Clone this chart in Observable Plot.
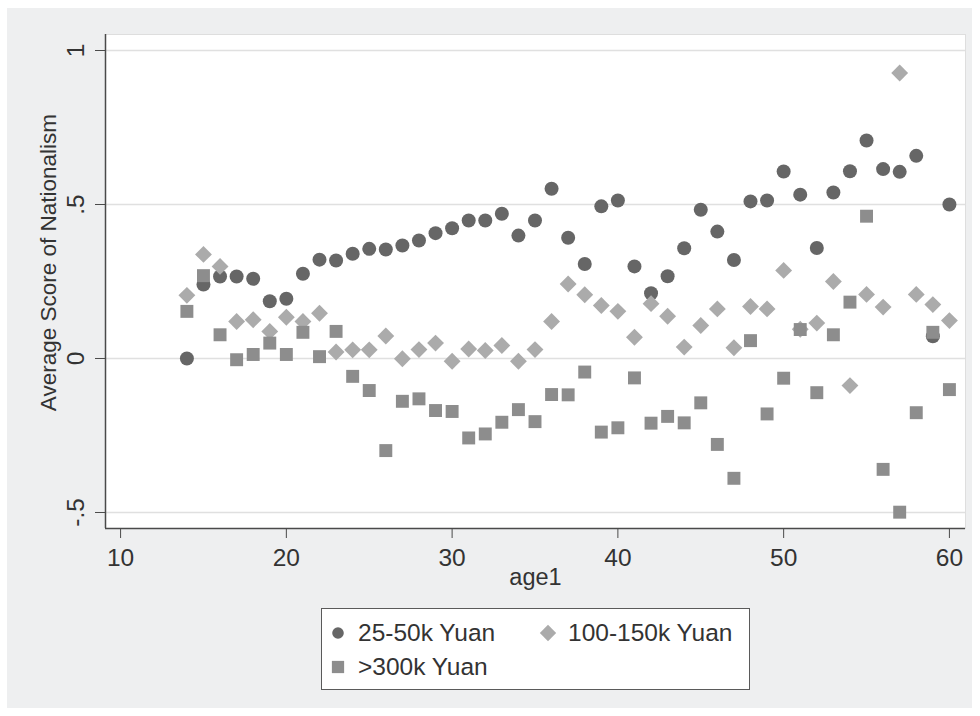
<!DOCTYPE html>
<html>
<head>
<meta charset="utf-8">
<script src="https://cdn.jsdelivr.net/npm/d3@7"></script>
<script src="https://cdn.jsdelivr.net/npm/@observablehq/plot@0.6"></script>
<style>
  body { margin: 0; background: #ffffff; font-family: "Liberation Sans", Arial, sans-serif; }
  #graph { position: absolute; left: 7px; top: 8px; width: 965px; height: 700px; background: #eeeff0; }
  #chart svg { display: block; }
  #legend {
    position: absolute; left: 314px; top: 600px; width: 429px; height: 82px;
    box-sizing: border-box; background: #fff; border: 1.5px solid #5a5a5a;
    padding-top: 7px; color: #333; font-size: 24.5px;
  }
  .row { display: flex; align-items: center; height: 34px; }
  .item { display: flex; align-items: center; }
  .item svg { display: block; }
</style>
</head>
<body>
<div id="graph">
  <div id="chart"></div>
  <div id="legend"></div>
</div>
<script>
// Respondent age
const ages = [14, 15, 16, 17, 18, 19, 20, 21, 22, 23, 24, 25, 26, 27, 28, 29, 30, 31, 32, 33, 34, 35, 36, 37,
              38, 39, 40, 41, 42, 43, 44, 45, 46, 47, 48, 49, 50, 51, 52, 53, 54, 55, 56, 57, 58, 59, 60];

// Average nationalism score by age, per household income group
const income25to50 = [0.000, 0.240, 0.266, 0.266, 0.259, 0.186, 0.194, 0.275, 0.321, 0.318, 0.340, 0.356,
                      0.354, 0.367, 0.383, 0.407, 0.423, 0.448, 0.448, 0.470, 0.399, 0.448, 0.551, 0.392,
                      0.307, 0.494, 0.513, 0.299, 0.212, 0.267, 0.358, 0.483, 0.412, 0.320, 0.510, 0.513,
                      0.607, 0.532, 0.359, 0.539, 0.608, 0.708, 0.615, 0.606, 0.658, 0.072, 0.500];
const income100to150 = [0.205, 0.338, 0.299, 0.120, 0.126, 0.088, 0.134, 0.120, 0.147, 0.021, 0.028, 0.028,
                        0.073, -0.001, 0.029, 0.050, -0.009, 0.031, 0.026, 0.042, -0.009, 0.029, 0.120, 0.242,
                        0.207, 0.172, 0.153, 0.069, 0.178, 0.137, 0.037, 0.107, 0.161, 0.035, 0.169, 0.161,
                        0.286, 0.095, 0.115, 0.250, -0.088, 0.208, 0.167, 0.927, 0.208, 0.175, 0.123];
const income300plus = [0.153, 0.269, 0.077, -0.004, 0.013, 0.050, 0.013, 0.085, 0.006, 0.088, -0.058, -0.104,
                       -0.299, -0.139, -0.131, -0.169, -0.172, -0.258, -0.245, -0.207, -0.166, -0.205, -0.117, -0.118,
                       -0.044, -0.239, -0.225, -0.063, -0.210, -0.188, -0.209, -0.144, -0.279, -0.389, 0.058, -0.180,
                       -0.064, 0.094, -0.111, 0.077, 0.183, 0.462, -0.360, -0.499, -0.176, 0.085, -0.101];

const seriesNames = ["25-50k Yuan", "100-150k Yuan", ">300k Yuan"];
const xTicks = [10, 20, 30, 40, 50, 60];
const yTicks = [-0.5, 0, 0.5, 1];
const xDomain = [9.09, 60.97];
const yDomain = [-0.552, 1.052];

const xLabel = "age1";
const yLabel = "Average Score of Nationalism";

// Marker styling per group
const styles = [
  {symbol: "circle", fill: "#666666", r: 7},
  {symbol: "diamond2", fill: "#ababab", r: 7.6},
  {symbol: "square", fill: "#8d8d8d", r: 7.3}
];

const seriesValues = [income25to50, income100to150, income300plus];
const rows = seriesValues.map(vals => ages.map((age, i) => ({age, score: vals[i]})));

// Stata-style tick text: ".5", "-.5"
const fmt = d => d === 0 ? "0" : String(d).replace("0.", ".");

const plot = Plot.plot({
  width: 965,
  height: 590,
  marginLeft: 98,
  marginRight: 7,
  marginTop: 26,
  marginBottom: 70,
  style: {background: "transparent", fontFamily: "'Liberation Sans', Arial, sans-serif", fontSize: "24px", color: "#333"},
  x: {domain: xDomain},
  y: {domain: yDomain},
  marks: [
    Plot.frame({fill: "#ffffff", stroke: "#dedede"}),
    Plot.gridY(yTicks, {stroke: "#e0e0e0", strokeOpacity: 1, strokeWidth: 1.6}),
    Plot.ruleX([xDomain[0]], {stroke: "#4a4a4a", strokeWidth: 1.5}),
    Plot.ruleY([yDomain[0]], {stroke: "#4a4a4a", strokeWidth: 1.5}),
    Plot.axisX({ticks: xTicks, tickSize: 10, tickPadding: 10, fontSize: 24.5, label: null, stroke: "#4a4a4a"}),
    Plot.axisY({ticks: yTicks, tickSize: 10, tickFormat: () => "", label: null, stroke: "#4a4a4a"}),
    Plot.text(yTicks, {y: d => d, frameAnchor: "left", text: fmt, rotate: -90, textAnchor: "middle",
                       lineAnchor: "bottom", dx: -22, fontSize: 24.5, fill: "#333"}),
    Plot.text([xLabel], {frameAnchor: "bottom", lineAnchor: "top", dy: 40, fontSize: 23.5, fill: "#333"}),
    Plot.text([yLabel], {frameAnchor: "left", rotate: -90, textAnchor: "middle", lineAnchor: "bottom",
                         dx: -50, dy: -19, fontSize: 22.5, fill: "#333"}),
    ...rows.map((data, k) => Plot.dot(data, {
      x: "age", y: "score", symbol: () => styles[k].symbol, fill: styles[k].fill,
      r: styles[k].r, stroke: "none"
    }))
  ]
});
document.getElementById("chart").appendChild(plot);

// Legend box below the plot
function swatch(style) {
  const size = 22;
  const svg = d3.create("svg").attr("width", size).attr("height", size);
  const sym = {circle: d3.symbolCircle, diamond2: d3.symbolDiamond2, square: d3.symbolSquare}[style.symbol];
  const area = {circle: Math.PI * 5.8 * 5.8, diamond2: 170, square: 150}[style.symbol];
  svg.append("path")
    .attr("transform", `translate(${size / 2},${size / 2})`)
    .attr("d", d3.symbol(sym, area)())
    .attr("fill", style.fill);
  return svg.node();
}
const legend = d3.select("#legend");
const layout = [[0, 1], [2]];
layout.forEach(rowItems => {
  const row = legend.append("div").attr("class", "row").style("padding-left", "5px");
  rowItems.forEach((k, j) => {
    const item = row.append("div").attr("class", "item").style("width", j === 0 ? "210px" : null);
    item.node().appendChild(swatch(styles[k]));
    item.append("span").style("margin-left", "9px").text(seriesNames[k]);
  });
});
</script>
</body>
</html>
